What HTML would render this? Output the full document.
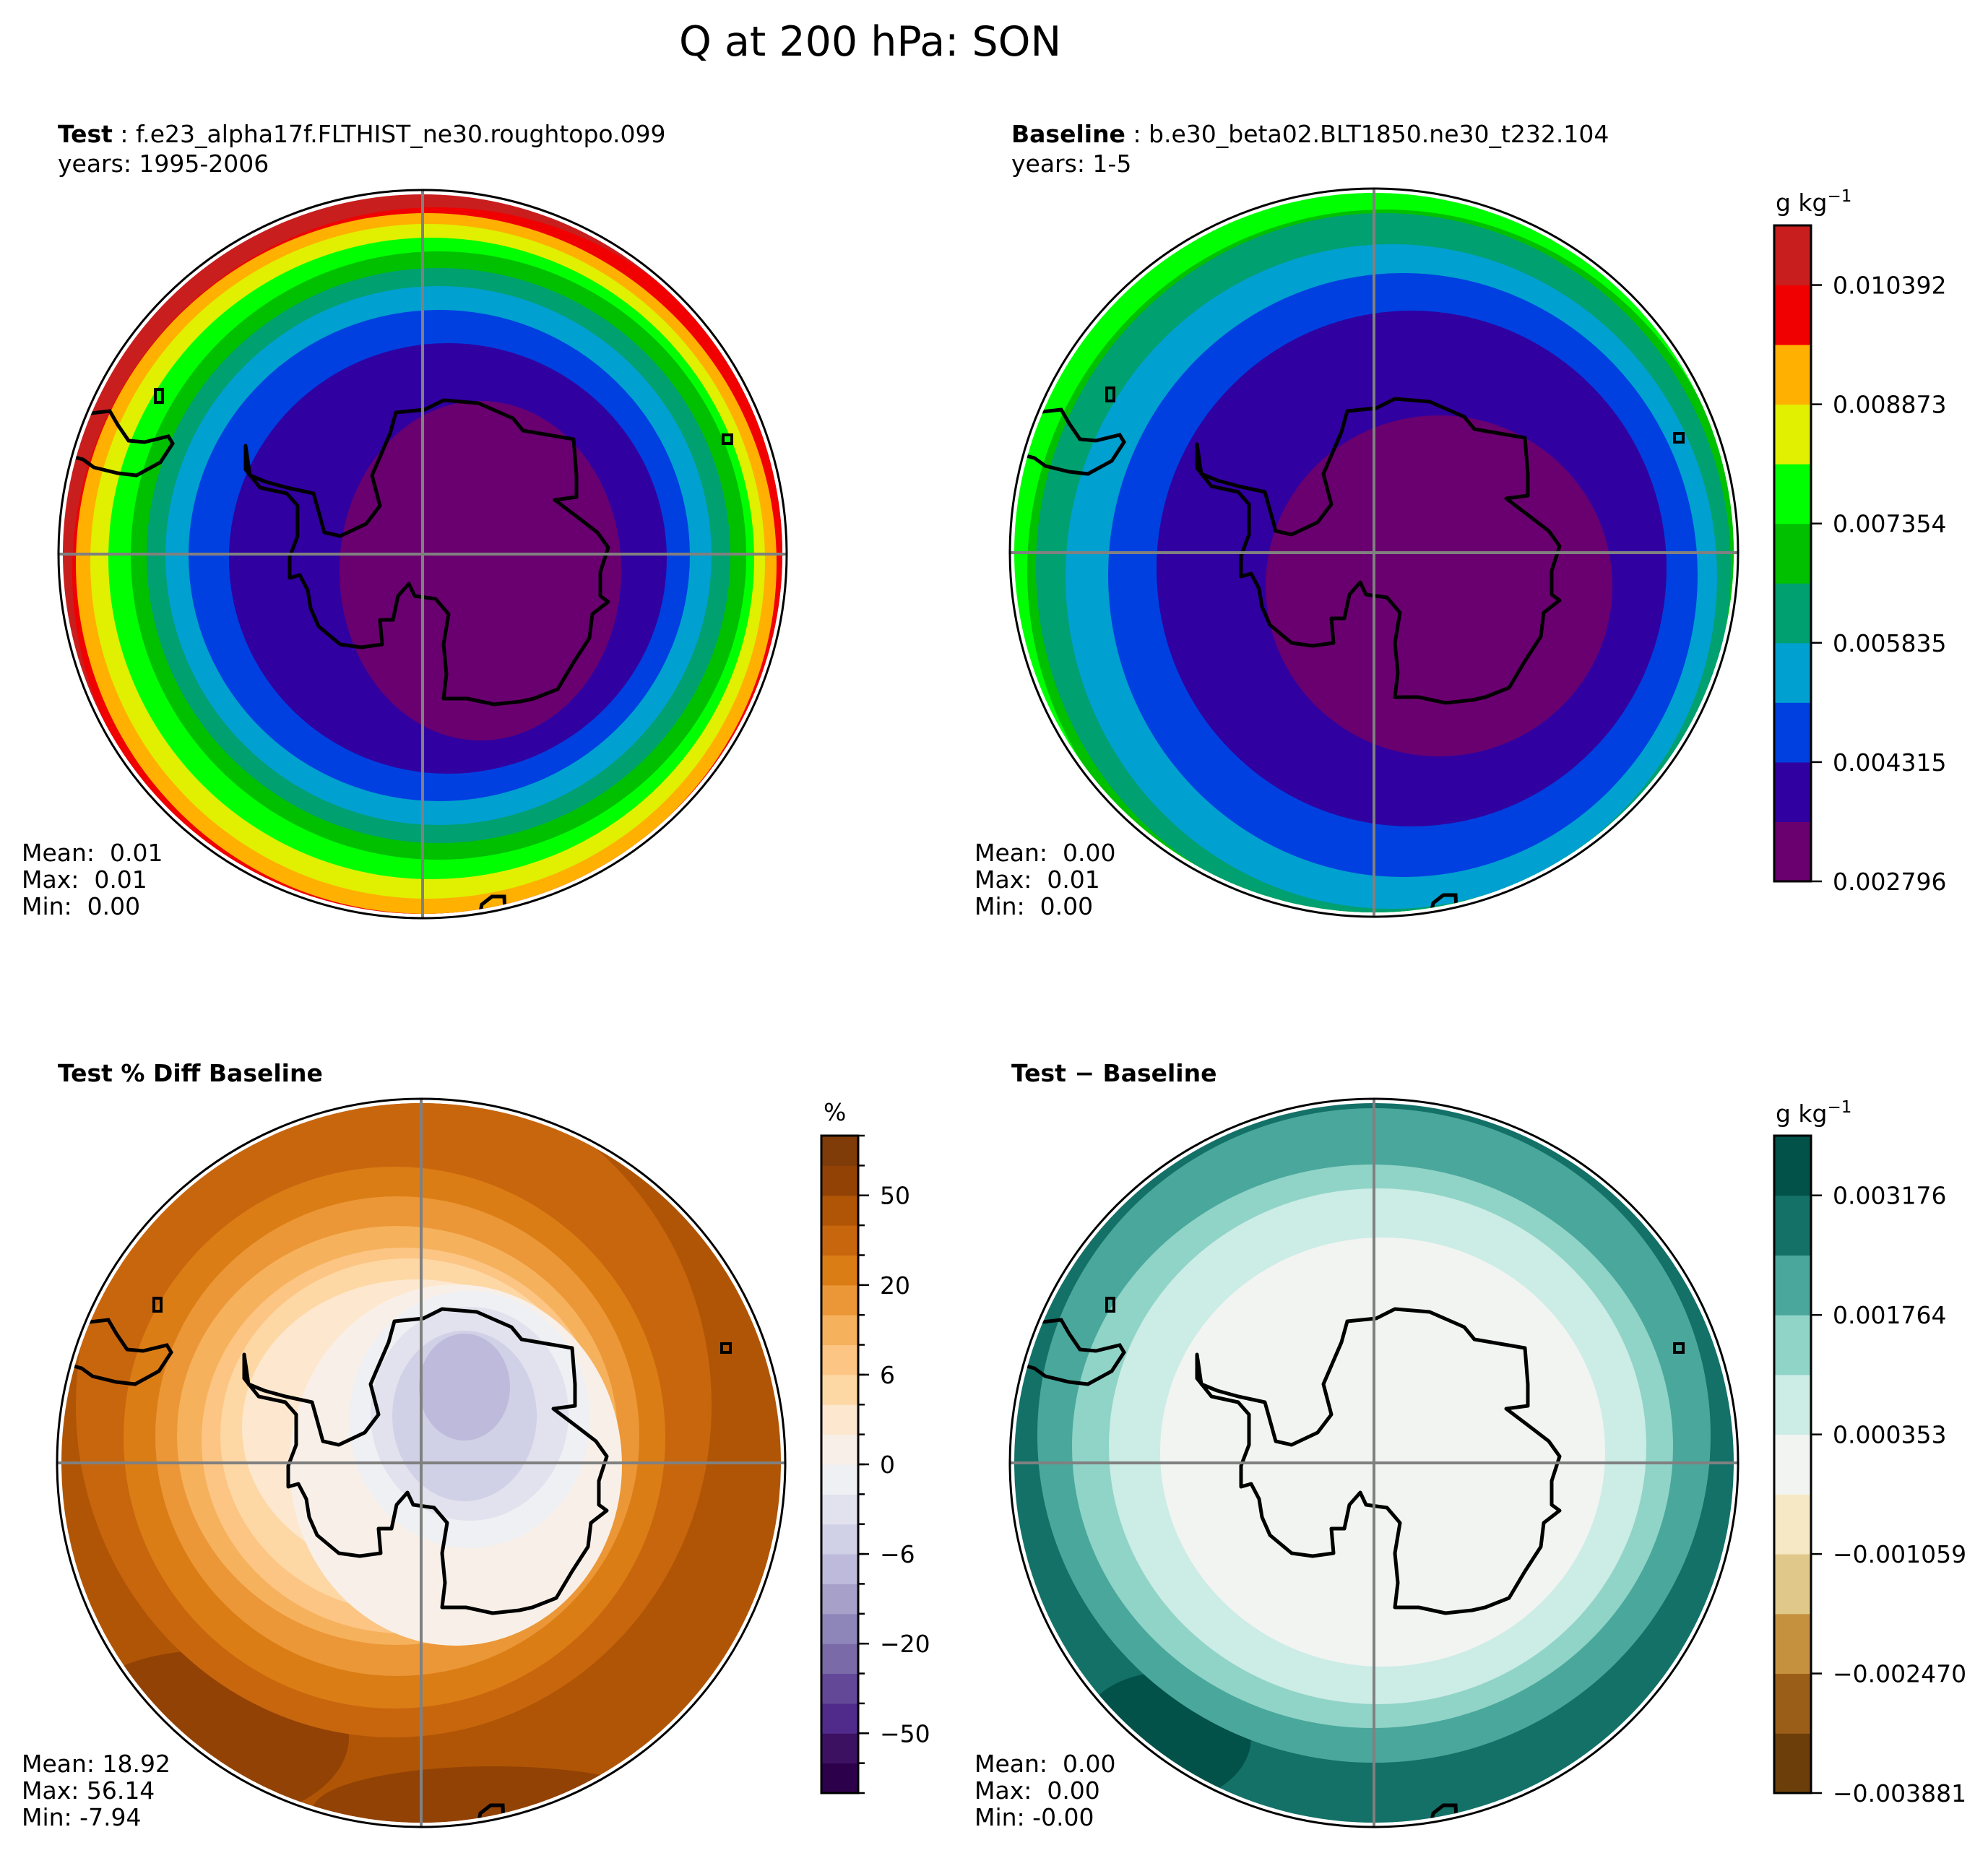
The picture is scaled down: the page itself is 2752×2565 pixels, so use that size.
<!DOCTYPE html>
<html><head><meta charset="utf-8"><style>
html,body{margin:0;padding:0;background:#fff;}
svg{display:block;font-family:"DejaVu Sans","Liberation Sans",sans-serif;}
text{white-space:pre;}
</style></head><body>
<svg id="fig" xmlns="http://www.w3.org/2000/svg" width="2752" height="2565" viewBox="0 0 2752 2565">
<rect width="2752" height="2565" fill="#fff"/>
<text x="940" y="77" font-size="57">Q at 200 hPa: SON</text>
<text x="80" y="197" font-size="33"><tspan font-weight="bold">Test</tspan> : f.e23_alpha17f.FLTHIST_ne30.roughtopo.099</text>
<text x="80" y="238" font-size="33">years: 1995-2006</text>
<text x="1400" y="197" font-size="33"><tspan font-weight="bold">Baseline</tspan> : b.e30_beta02.BLT1850.ne30_t232.104</text>
<text x="1400" y="238" font-size="33">years: 1-5</text>
<text x="80" y="1497" font-size="33" font-weight="bold">Test % Diff Baseline</text>
<text x="1400" y="1497" font-size="33" font-weight="bold">Test − Baseline</text>
<g id="panels"></g>
</svg>
<script>
const NS="http://www.w3.org/2000/svg";
// colour levels
const qColors=["#6a006f","#3000a0","#0040e0","#00a0d0","#00a070","#00c000","#00ff00","#e0f000","#ffb000","#f00000","#c81e1e"];
const qTicks=["0.002796","0.004315","0.005835","0.007354","0.008873","0.010392"];
const pctColors=["#2d004b","#3d1161","#512b8c","#634898","#7a6aa8","#8e86b9","#a7a0c9","#bdbadb","#d0d1e6","#e2e2ee","#eff0f3","#f8f0e8","#fde8cf","#fdd8a5","#fcc584","#f6b15c","#eb9737","#db7d15","#c8660e","#b05505","#924205","#7f3b08"];
const pctTicks=["−50","−20","−6","0","6","20","50"];
const dColors=["#6c3f0a","#9b5e19","#c6913f","#e0c88a","#f6e8c5","#f2f4f2","#ccece6","#90d4c7","#4aa79c","#137168","#02524a"];
const dTicks=["−0.003881","−0.002470","−0.001059","0.000353","0.001764","0.003176"];

// band level index (into colour list) per panel, outer to inner
const testLevels=[10,9,8,7,6,5,4,3,2,1,0];
const baseLevels=[6,5,4,3,2,1,0];
const pctLevels=[19,20,20,18,17,16,15,14,13,12,11,10,9,8,7];
const diffLevels=[9,10,8,7,6,5];

// band shapes: [dx,dy,rx,ry] relative to panel centre
const testShapes=[[0,0,520,520],[20,25,505,505],[5,13,485,485],[7,10,467,467],[12,6,447,444],[22,2,426,421],[22,2,404,398],[22,2,378,373],[23,2,347,340],[35,6,303,298],[80,23,195,235]];
const baseShapes=[[0,0,520,520],[15,25,495,500],[13,20,481,490],[24,33,451,460],[40,31,408,418],[52,22,353,357],[90,46,240,236]];
const pctShapes=[[0,0,520,520],[-300,380,200,120],[100,480,250,60],[-38,-80,440,460],[-37,-35,375,375],[-33,-37,335,332],[-33,-38,305,290],[-24,-31,280,267],[-18,-38,260,245],[-7,-49,241,205],[48,3,230,250],[67,-60,167,178],[67,-68,137,148],[60,-65,100,118],[60,-105,63,74]];
const diffShapes=[[0,0,520,520],[-290,380,120,90],[0,-38,466,453],[-2,-23,416,390],[5,-23,372,357],[12,-15,308,297]];

const coast=[[-245,-150],[-239,-109],[-217,-100],[-188,-92],[-151,-84],[-144,-59],[-136,-30],[-114,-25],[-78,-42],[-59,-67],[-70,-109],[-45,-167],[-37,-196],[3,-200],[29,-213],[77,-209],[125,-188],[139,-171],[209,-159],[213,-109],[213,-79],[183,-75],[216,-50],[242,-30],[257,-9],[246,25],[246,58],[257,66],[235,83],[231,116],[209,150],[187,187],[154,200],[136,204],[99,208],[62,200],[29,200],[33,166],[29,125],[36,83],[18,62],[-11,58],[-19,41],[-34,58],[-41,91],[-59,91],[-56,125],[-85,129],[-114,125],[-144,100],[-155,75],[-159,50],[-170,29],[-184,33],[-184,4],[-173,-25],[-173,-67],[-188,-84],[-225,-92],[-245,-117]];
const samer=[[-490,-200],[-459,-195],[-433,-198],[-422,-179],[-407,-157],[-385,-155],[-352,-163],[-346,-153],[-363,-127],[-396,-109],[-422,-112],[-455,-120],[-470,-131],[-481,-134],[-500,-140]];
const africa=[[79,500],[82,485],[96,474],[113,474],[114,495]];

const panels=[
 {name:"test",cx:585,cy:767,colors:qColors,levels:testLevels,shapes:testShapes,stats:["Mean:  0.01","Max:  0.01","Min:  0.00"],sx:30,sy:1192},
 {name:"baseline",cx:1902,cy:765,colors:qColors,levels:baseLevels,shapes:baseShapes,stats:["Mean:  0.00","Max:  0.01","Min:  0.00"],sx:1349,sy:1192},
 {name:"pctdiff",cx:583,cy:2025,colors:pctColors,levels:pctLevels,shapes:pctShapes,stats:["Mean: 18.92","Max: 56.14","Min: -7.94"],sx:30,sy:2453},
 {name:"diff",cx:1902,cy:2025,colors:dColors,levels:diffLevels,shapes:diffShapes,stats:["Mean:  0.00","Max:  0.00","Min: -0.00"],sx:1349,sy:2453}
];
const root=document.getElementById('panels');
function mk(tag,attrs,parent){const e=document.createElementNS(NS,tag);for(const k in attrs)e.setAttribute(k,attrs[k]);(parent||root).appendChild(e);return e;}
const defs=mk('defs',{});
const R=504;
panels.forEach((p,i)=>{
  const cp=mk('clipPath',{id:'clip'+i},defs);
  mk('circle',{cx:p.cx,cy:p.cy,r:R-6},cp);
  const g=mk('g',{'clip-path':'url(#clip'+i+')'});
  
  
  p.shapes.forEach((s,j)=>{
    const e=mk('ellipse',{cx:p.cx+s[0],cy:p.cy+s[1],rx:s[2],ry:s[3],fill:p.colors[p.levels[j]]},g);
    
    
  });
  const pts=a=>a.map(q=>(p.cx+q[0])+','+(p.cy+q[1])).join(' ');
  const c1=mk('polygon',{points:pts(coast),fill:'none',stroke:'#000','stroke-width':5,'stroke-linejoin':'round'},g);
  
  
  const c2=mk('polyline',{points:pts(samer),fill:'none',stroke:'#000','stroke-width':5},g);
  
  
  const c3=mk('polyline',{points:pts(africa),fill:'none',stroke:'#000','stroke-width':5},g);
  
  
  mk('rect',{x:p.cx-370,y:p.cy-228,width:10,height:18,fill:'none',stroke:'#000','stroke-width':4},g);
  mk('rect',{x:p.cx+416,y:p.cy-165,width:12,height:12,fill:'none',stroke:'#000','stroke-width':4},g);
  const gl=mk('path',{d:`M${p.cx-R} ${p.cy}H${p.cx+R}M${p.cx} ${p.cy-R}V${p.cy+R}`,stroke:'#808080','stroke-width':4,fill:'none'});
  
  
  const bd=mk('circle',{cx:p.cx,cy:p.cy,r:R,fill:'none',stroke:'#000','stroke-width':3});
  
  
  p.stats.forEach((s,k)=>{
    const t=mk('text',{x:p.sx,y:p.sy+k*37,'font-size':33});
    t.textContent=s;
    
    
  });
});

function colorbar(name,x,y0,y1,colors,ticks,tickEvery,tickStart,labelX,unit,unitX,unitY,minor){
  const n=colors.length, h=(y1-y0)/n;
  const g=mk('g',{});
  
  
  colors.forEach((c,i)=>{
    const r=mk('rect',{x:x,y:y1-(i+1)*h,width:51,height:h+0.5,fill:c},g);
    
    
  });
  mk('rect',{x:x,y:y0,width:51,height:y1-y0,fill:'none',stroke:'#000','stroke-width':3},g);
  if(minor){for(let i=0;i<=n;i++){mk('line',{x1:x+51,x2:x+60,y1:y1-i*h,y2:y1-i*h,stroke:'#000','stroke-width':2.5},g);}}
  ticks.forEach((t,k)=>{
    const yy=y1-(tickStart+k*tickEvery)*h;
    mk('line',{x1:x+51,x2:x+66,y1:yy,y2:yy,stroke:'#000','stroke-width':2.5},g);
    const tx=mk('text',{x:labelX,y:yy+12,'font-size':33},g);
    tx.textContent=t;
    
    
  });
  const u=mk('text',{x:unitX,y:unitY,'font-size':33},g);
  u.innerHTML='';
  u.innerHTML=unit;
  
  
}
colorbar('q-colorbar',2456,312,1220,qColors,qTicks,2,0,2537,'g kg<tspan dy="-13" font-size="23">−1</tspan>',2458,292,false);
colorbar('pct-colorbar',1137,1572,2482,pctColors,pctTicks,3,2,1218,'%',1140,1551,true);
colorbar('diff-colorbar',2456,1572,2482,dColors,dTicks,2,0,2537,'g kg<tspan dy="-13" font-size="23">−1</tspan>',2458,1553,false);
</script>
</body></html>
